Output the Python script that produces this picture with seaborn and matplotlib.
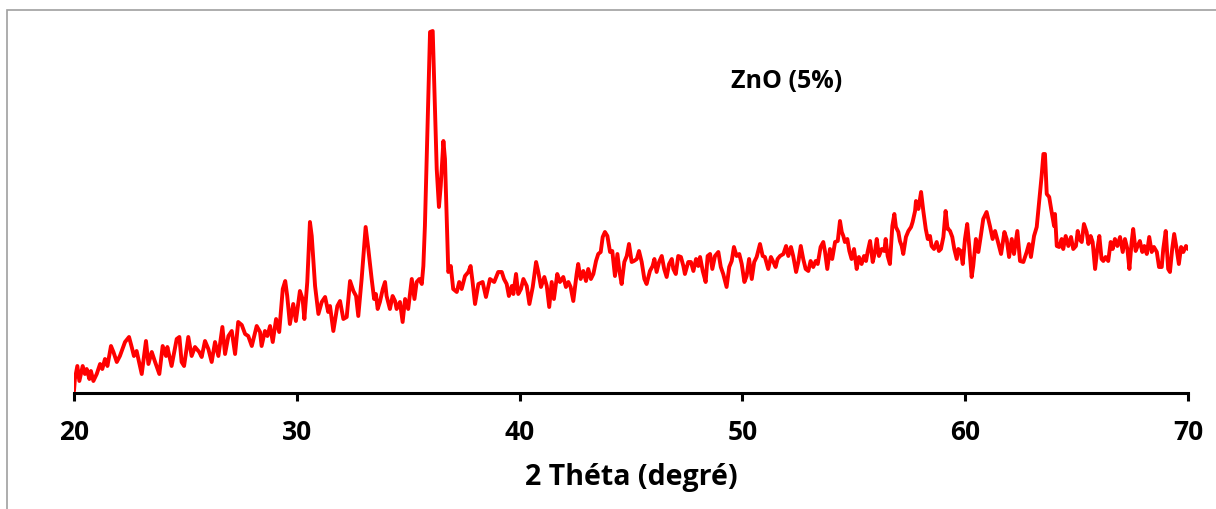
import matplotlib
matplotlib.use("Agg")
import matplotlib.pyplot as plt
from matplotlib.patches import Rectangle
import seaborn as sns
import pandas as pd

# ---------------- data ----------------
two_theta_a = [20.0, 20.04, 20.15, 20.24, 20.39, 20.49, 20.57, 20.69, 20.76, 20.87, 21.02, 21.17,
               21.27, 21.39, 21.5, 21.66, 21.77, 21.92, 22.06, 22.29, 22.47, 22.59, 22.69, 22.81,
               23.04, 23.23, 23.34, 23.49, 23.64, 23.83, 23.98, 24.13, 24.19, 24.38, 24.61, 24.73,
               24.83, 24.94, 25.13, 25.28, 25.43, 25.62, 25.73, 25.88, 26.03, 26.18, 26.33, 26.48,
               26.66, 26.78, 26.93, 27.08, 27.23, 27.37, 27.53, 27.68, 27.82, 27.98, 28.2, 28.35]
intensity_a = [2, 14, 27, 12, 27, 19, 24, 14, 22, 12, 19, 29, 24, 34, 27, 47, 41, 31, 37, 51, 56,
               46, 37, 42, 19, 52, 29, 41, 31, 19, 47, 37, 46, 27, 54, 56, 31, 27, 56, 37, 46, 41,
               36, 52, 44, 31, 51, 37, 66, 39, 57, 62, 39, 71, 68, 59, 57, 47, 67, 61]

two_theta_b = [28.42, 28.57, 28.68, 28.8, 28.92, 29.07, 29.21, 29.37, 29.48, 29.57, 29.69, 29.84,
               29.96, 30.14, 30.26, 30.34, 30.47, 30.59, 30.67, 30.82, 30.97, 31.12, 31.27, 31.41,
               31.49, 31.64, 31.82, 31.94, 32.09, 32.24, 32.39, 32.54, 32.66, 32.76, 32.91, 33.09,
               33.21, 33.36, 33.47, 33.55, 33.63, 33.73, 33.86, 33.96, 34.03, 34.18, 34.3, 34.41,
               34.48, 34.63, 34.75, 34.86, 35.0, 35.16, 35.28, 35.38, 35.5, 35.61, 35.68]
intensity_b = [47, 62, 57, 67, 51, 74, 61, 104, 112, 97, 69, 89, 72, 102, 94, 74, 111, 171, 157,
               107, 79, 91, 96, 81, 87, 62, 87, 92, 74, 76, 112, 102, 97, 77, 114, 166, 144, 114,
               94, 99, 84, 91, 104, 111, 97, 84, 97, 92, 84, 91, 71, 94, 84, 114, 94, 111, 114,
               109, 127]

two_theta_c = [35.75, 35.9, 35.98, 36.1, 36.17, 36.28, 36.38, 36.46, 36.58, 36.65, 36.73, 36.8,
               36.91, 37.02, 37.18, 37.29, 37.4, 37.55, 37.7, 37.8, 37.89, 38.0, 38.15, 38.34,
               38.49, 38.67, 38.86, 39.04]
intensity_c = [167, 291, 361, 362, 307, 224, 186, 207, 252, 234, 174, 121, 127, 104, 101, 111,
               104, 117, 121, 127, 111, 89, 109, 111, 96, 114, 111, 121]

two_theta_d = [39.2, 39.3, 39.42, 39.52, 39.65, 39.72, 39.84, 39.94, 40.06, 40.17, 40.32, 40.44,
               40.59, 40.74, 40.84, 40.96, 41.11, 41.22, 41.33, 41.44, 41.54, 41.69, 41.81, 41.96,
               42.08, 42.19, 42.29, 42.41, 42.56, 42.63, 42.74, 42.86, 42.98, 43.08, 43.2, 43.31,
               43.43, 43.53, 43.64, 43.73, 43.83, 43.94, 44.06, 44.16, 44.28, 44.39, 44.48, 44.58,
               44.7, 44.81, 44.91, 45.03, 45.13, 45.26, 45.36, 45.48, 45.6, 45.7, 45.85, 45.97,
               46.05, 46.15, 46.26, 46.38, 46.49, 46.6, 46.71, 46.83, 46.9, 47.01, 47.12, 47.24,
               47.35, 47.42, 47.57, 47.69, 47.8, 47.92, 48.02, 48.1, 48.22, 48.35, 48.44, 48.55,
               48.65, 48.77, 48.92]
intensity_d = [121, 114, 109, 97, 107, 99, 119, 99, 104, 114, 107, 89, 106, 131, 121, 106, 116,
               107, 86, 111, 94, 119, 111, 116, 106, 111, 106, 92, 119, 129, 114, 122, 112, 124,
               114, 119, 132, 139, 141, 156, 161, 157, 141, 142, 117, 139, 122, 109, 131, 137, 149,
               131, 132, 134, 142, 131, 114, 109, 122, 127, 134, 121, 131, 137, 124, 116, 129, 134,
               124, 119, 137, 136, 127, 119, 131, 131, 122, 134, 127, 136, 122, 111, 137, 139, 124,
               137, 141]

two_theta_e = [49.03, 49.14, 49.29, 49.41, 49.52, 49.62, 49.74, 49.86, 49.97, 50.09, 50.19, 50.3,
               50.42, 50.53, 50.64, 50.79, 50.91, 51.01, 51.16, 51.28, 51.39, 51.49, 51.58, 51.69,
               51.84, 51.96, 52.06, 52.18, 52.28, 52.41, 52.51, 52.62, 52.73, 52.84, 52.96, 53.06,
               53.18, 53.29, 53.38, 53.51, 53.63, 53.71, 53.81, 53.93, 54.03, 54.16, 54.28, 54.38,
               54.46, 54.53, 54.6, 54.71, 54.8, 54.9, 55.01, 55.13, 55.23, 55.35, 55.46, 55.55,
               55.62, 55.73, 55.85, 55.95, 56.03, 56.13, 56.25, 56.37, 56.43, 56.52, 56.62, 56.73,
               56.82, 56.89, 57.0, 57.07, 57.15, 57.22, 57.34, 57.45, 57.57, 57.64, 57.75, 57.79,
               57.9, 58.02, 58.12, 58.23, 58.32, 58.42, 58.49, 58.6, 58.72, 58.82, 58.91, 59.02,
               59.12, 59.21]
intensity_e = [126, 119, 106, 126, 132, 146, 137, 139, 129, 111, 117, 134, 114, 131, 136, 149,
               137, 136, 124, 136, 131, 126, 134, 137, 139, 147, 137, 146, 137, 121, 131, 147, 134,
               124, 122, 132, 126, 132, 129, 146, 151, 141, 124, 144, 134, 151, 152, 172, 161, 157,
               151, 154, 142, 134, 144, 124, 136, 129, 137, 132, 141, 152, 131, 141, 154, 137, 144,
               142, 154, 137, 129, 167, 179, 166, 161, 152, 147, 139, 156, 162, 166, 171, 182, 192,
               184, 201, 182, 164, 154, 157, 147, 144, 151, 142, 144, 156, 182, 164]

two_theta_f = [59.24, 59.32, 59.42, 59.51, 59.62, 59.69, 59.8, 59.89, 59.99, 60.09, 60.18, 60.29,
               60.36, 60.48, 60.59, 60.7, 60.81, 60.96, 61.11, 61.23, 61.34, 61.46, 61.61, 61.76,
               61.86, 61.97, 62.09, 62.19, 62.34, 62.46, 62.61, 62.76, 62.86, 62.95, 63.09, 63.21,
               63.31, 63.43, 63.51, 63.58, 63.66, 63.77, 63.88, 63.99, 64.03, 64.11, 64.22, 64.33,
               64.4, 64.51, 64.63, 64.75, 64.85, 64.97, 65.05, 65.12, 65.23, 65.33, 65.45, 65.53,
               65.63, 65.72, 65.83, 65.93, 66.02, 66.12, 66.2, 66.3, 66.42, 66.53, 66.62, 66.72,
               66.83, 66.95, 67.07, 67.17, 67.28, 67.37, 67.47, 67.54, 67.65, 67.74, 67.84, 67.95,
               68.04, 68.15, 68.26, 68.37, 68.47, 68.6, 68.7, 68.82, 68.89, 69.0, 69.11, 69.19,
               69.29, 69.38, 69.49, 69.59, 69.69, 69.79, 69.91, 70.0]
intensity_f = [164, 162, 156, 144, 134, 144, 142, 129, 154, 169, 147, 116, 127, 154, 141, 157,
               174, 181, 167, 154, 162, 152, 139, 161, 154, 136, 154, 139, 162, 132, 131, 141, 149,
               136, 157, 166, 189, 217, 239, 239, 199, 196, 181, 167, 179, 147, 146, 154, 144, 157,
               147, 156, 144, 147, 162, 154, 151, 169, 161, 149, 157, 151, 124, 144, 157, 134, 132,
               136, 132, 151, 144, 154, 147, 156, 141, 154, 144, 124, 151, 164, 142, 147, 152, 141,
               147, 139, 156, 141, 146, 141, 126, 126, 144, 162, 124, 121, 144, 159, 144, 129, 146,
               141, 147, 144]

x_ticks = [20, 30, 40, 50, 60, 70]
x_label = "2 Théta (degré)"
annotation = "ZnO (5%)"

two_theta = two_theta_a + two_theta_b + two_theta_c + two_theta_d + two_theta_e + two_theta_f
intensity = intensity_a + intensity_b + intensity_c + intensity_d + intensity_e + intensity_f
df = pd.DataFrame({"two_theta": two_theta, "intensity": intensity})

# ---------------- style ----------------
sns.set_style("white")
plt.rcParams["font.family"] = ["Open Sans", "DejaVu Sans"]

W, H = 1216, 510
fig = plt.figure(figsize=(W / 100, H / 100), dpi=100)
ax = fig.add_axes([74 / W, 116 / H, (1188 - 74) / W, (394 - 20) / H])

sns.lineplot(data=df, x="two_theta", y="intensity", ax=ax, color="#ff0000",
             linewidth=2.8, estimator=None, sort=False)

ax.set_xlim(20, 70)
ax.set_ylim(0, 374)
ax.set_xticks(x_ticks)
ax.set_xticklabels([str(t) for t in x_ticks], fontsize=19, fontweight="bold", color="black")
ax.set_yticks([])
ax.set_ylabel("")
ax.set_xlabel(x_label, fontsize=20.5, fontweight="bold", labelpad=12, color="black")
ax.tick_params(axis="x", bottom=True, direction="out", length=6, width=2.2, pad=12,
               color="black")
for s in ["left", "top", "right"]:
    ax.spines[s].set_visible(False)
ax.spines["bottom"].set_linewidth(2.2)
ax.spines["bottom"].set_color("black")
ax.patch.set_alpha(0)

fig.text(787 / W, 1 - 82 / H, annotation, ha="center", va="center",
         fontsize=18, fontweight="bold", color="black")

# outer frame (visible on left and top only)
fig.patches.append(Rectangle((6.5 / W, -0.05), 1.1, (1 - 11 / H) + 0.05,
                             transform=fig.transFigure, fill=False,
                             edgecolor="#a0a0a0", linewidth=1.2))

fig.savefig("out.png", dpi=100)
